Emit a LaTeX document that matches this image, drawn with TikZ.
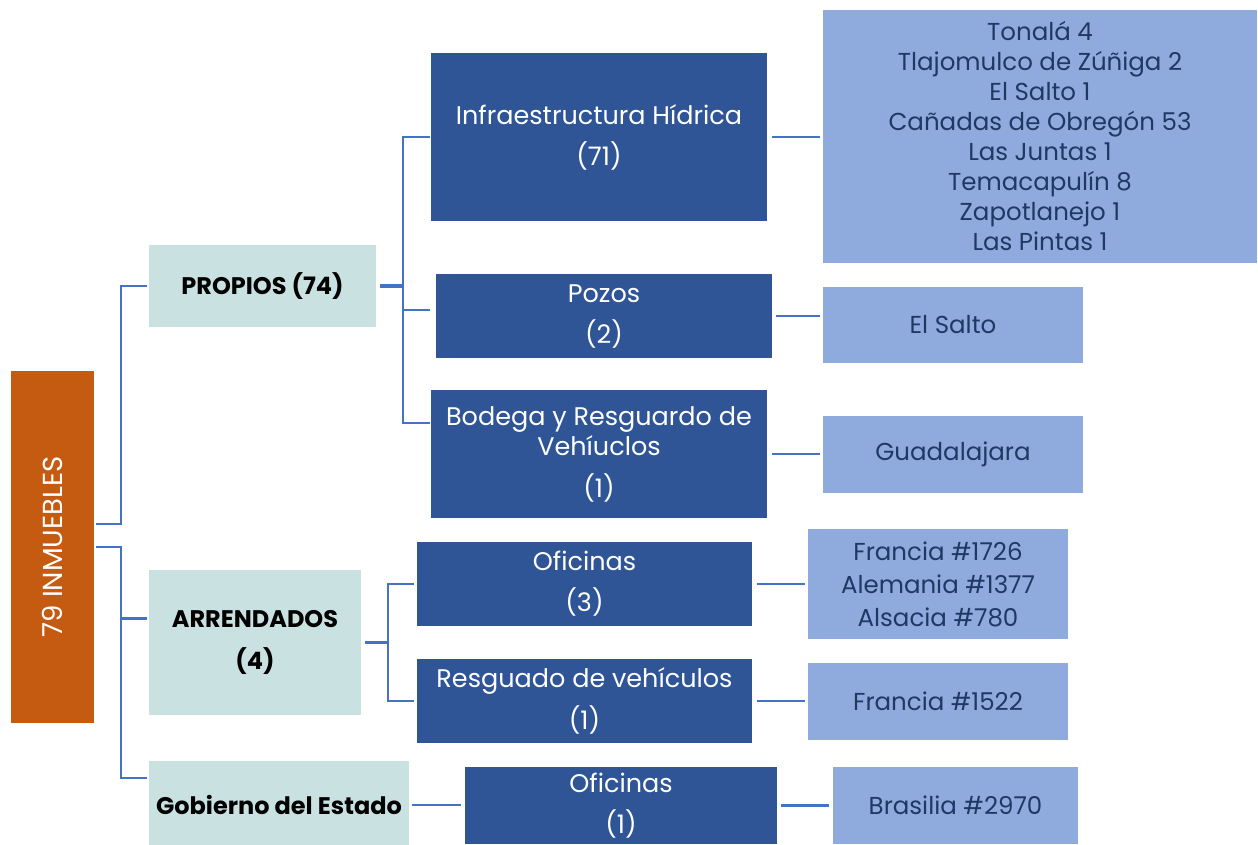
\documentclass[tikz,border=0pt]{standalone}
\usepackage{fontspec}
\setmainfont{Poppins}
\definecolor{darkbox}{HTML}{2F5597}
\definecolor{lightbox}{HTML}{8FAADC}
\definecolor{tealbox}{HTML}{C9E2E1}
\definecolor{orangebox}{HTML}{C55A11}
\definecolor{conncol}{HTML}{4472C4}
\definecolor{navytext}{HTML}{1F3864}
\begin{document}
\begin{tikzpicture}[x=1pt,y=-1pt,
  box/.style={rectangle, inner sep=0pt, align=center},
  darkb/.style={box, fill=darkbox, text=white, font=\fontsize{25.5}{30}\selectfont},
  lightb/.style={box, fill=lightbox, text=navytext, font=\fontsize{24.5}{30}\selectfont},
  tealb/.style={box, fill=tealbox, text=black, font=\fontsize{24}{30}\selectfont\bfseries},
  conn/.style={draw=conncol, line width=2.7pt},
  thickconn/.style={draw=conncol, line width=4.5pt},
]
\useasboundingbox[fill=white] (0,0) rectangle (1258,844);

% level 0
\node[box, fill=orangebox, text=white, minimum width=83pt, minimum height=352pt] (root) at (52.5,547) {};
\node[text=white, rotate=90, font=\fontsize{27.5}{30}\selectfont] (roottext) at (root.center) {79 INMUEBLES};

% level 1
\node[tealb, minimum width=227pt, minimum height=82pt] (propios) at (262.5,286) {PROPIOS (74)};
\node[tealb, minimum width=212pt, minimum height=145pt] (arr) at (255,642.5) {ARRENDADOS\\[12pt](4)};
\node[tealb, minimum width=260pt, minimum height=88pt] (gob) at (279,805) {Gobierno del Estado};

% level 2
\node[darkb, minimum width=336pt, minimum height=168pt] (infra) at (599,137) {Infraestructura Hídrica\\[11pt](71)};
\node[darkb, minimum width=336pt, minimum height=84pt] (pozos) at (604,316) {Pozos\\[11pt](2)};
\node[darkb, minimum width=336pt, minimum height=128pt] (bodega) at (599,454) {Bodega y Resguardo de\\Vehíuclos\\[12pt](1)};
\node[darkb, minimum width=335pt, minimum height=84pt] (ofi) at (584.5,584) {Oficinas\\[11pt](3)};
\node[darkb, minimum width=335pt, minimum height=84pt] (resg) at (584.5,701) {Resguado de vehículos\\[11pt](1)};
\node[darkb, minimum width=312pt, minimum height=77pt] (gofi) at (621,805.5) {Oficinas\\[11pt](1)};

% level 3
\node[lightb, minimum width=434pt, minimum height=253pt] (list) at (1040,136.5) {Tonalá 4\\Tlajomulco de Zúñiga 2\\El Salto 1\\Cañadas de Obregón 53\\Las Juntas 1\\Temacapulín 8\\Zapotlanejo 1\\Las Pintas 1};
\node[lightb, minimum width=260pt, minimum height=76pt] (elsalto) at (953,325) {El Salto};
\node[lightb, minimum width=260pt, minimum height=77pt] (guad) at (953,454.5) {Guadalajara};
\node[lightb, minimum width=260pt, minimum height=110pt] (francia) at (938,584) {Francia \#1726\\[3pt]Alemania \#1377\\[3pt]Alsacia \#780};
\node[lightb, minimum width=260pt, minimum height=77pt] (fr1522) at (938,701.5) {Francia \#1522};
\node[lightb, minimum width=245pt, minimum height=77pt] (bras) at (955.5,805.5) {Brasilia \#2970};

% junction coordinates
\coordinate (j1) at (121,0);
\coordinate (j2) at (403,0);
\coordinate (j3) at (388,0);
\coordinate (r1) at ([yshift=23pt,xshift=2pt]root.east);
\coordinate (r2) at ([xshift=2pt]root.east);
\coordinate (g1) at ([yshift=27pt,xshift=-2pt]gob.west);
\coordinate (a1) at ([yshift=24pt,xshift=-2pt]arr.west);
\coordinate (p1) at ([xshift=-2pt]propios.west);
\coordinate (p2) at ([yshift=6pt,xshift=-6pt]pozos.west);
\coordinate (b3) at ([yshift=31pt,xshift=-1pt]bodega.west);

% root connectors
\draw[conn] (r1) -- (r1 -| j1) |- (p1);
\draw[conn] (r2) -- (r2 -| j1) |- (g1);
\draw[conn] (a1 -| j1) -- (a1);

% propios connectors
\draw[thickconn] ([xshift=4pt]propios.east) -- (propios.east -| j2);
\draw[conn] ([xshift=-1pt]infra.west) -- (infra.west -| j2) |- (b3);
\draw[conn] (p2 -| j2) -- (p2);

% arrendados connectors
\draw[conn] ([xshift=4pt]arr.east) -- (arr.east -| j3);
\draw[conn] ([xshift=-3pt]ofi.west) -- (ofi.west -| j3) |- ([xshift=-3pt]resg.west);

% gobierno connector
\draw[conn] ([xshift=3pt]gob.east) -- ([xshift=-4pt]gob.east -| gofi.west);

% level 2 to level 3
\draw[conn, shorten >=3pt, shorten <=5pt] (infra.east) -- (infra.east -| list.west);
\draw[conn, shorten >=3pt, shorten <=4pt] (pozos.east) -- (pozos.east -| elsalto.west);
\draw[conn, shorten >=3pt, shorten <=5pt] (bodega.east) -- (bodega.east -| guad.west);
\draw[conn, shorten >=3pt, shorten <=5pt] (ofi.east) -- (ofi.east -| francia.west);
\draw[conn, shorten >=3pt, shorten <=5pt] (resg.east) -- (resg.east -| fr1522.west);
\draw[conn, shorten >=4pt, shorten <=4pt] (gofi.east) -- (gofi.east -| bras.west);
\end{tikzpicture}
\end{document}
